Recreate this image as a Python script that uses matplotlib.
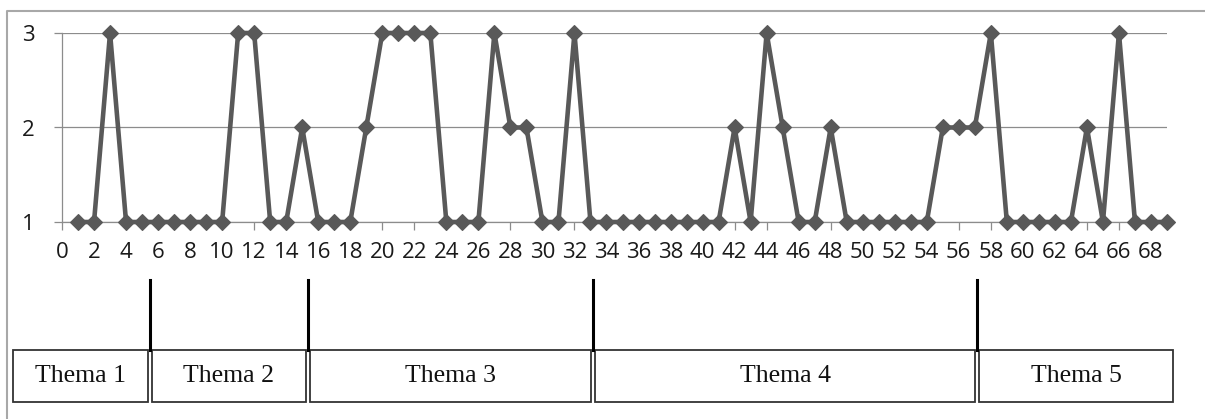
import matplotlib
matplotlib.use("Agg")
import matplotlib.pyplot as plt
from matplotlib.patches import Rectangle
from matplotlib.lines import Line2D
from matplotlib.transforms import blended_transform_factory

# Series: one rating (1-3) per sequence step 1..69
steps = list(range(1, 70))
values = [1, 1, 3, 1, 1, 1, 1, 1, 1, 1,
          3, 3, 1, 1, 2, 1, 1, 1, 2, 3,
          3, 3, 3, 1, 1, 1, 3, 2, 2, 1,
          1, 3, 1, 1, 1, 1, 1, 1, 1, 1,
          1, 2, 1, 3, 2, 1, 1, 2, 1, 1,
          1, 1, 1, 1, 2, 2, 2, 3, 1, 1,
          1, 1, 1, 2, 1, 3, 1, 1, 1]
x_ticks = list(range(0, 69, 2))
y_ticks = [1, 2, 3]

# Topic segments along the step axis
themes = ["Thema 1", "Thema 2", "Thema 3", "Thema 4", "Thema 5"]
theme_edges = [-3.05, 5.5, 15.35, 33.15, 57.15, 69.4]

W, H = 1205, 419
fig = plt.figure(figsize=(W / 100, H / 100), dpi=100)
fig.patch.set_facecolor("white")

ax = fig.add_axes([62 / W, 1 - 222 / H, (1167 - 62) / W, (222 - 33) / H])
ax.set_facecolor("none")

grid_c = "#8c8c8c"
line_c = "#595959"

ax.plot(steps, values, color=line_c, lw=3.3, marker="D", ms=8.6,
        mfc=line_c, mec=line_c, mew=0.8, clip_on=False, zorder=3)

ax.set_xlim(0, 69)
ax.set_ylim(1, 3)
ax.set_xticks(x_ticks)
ax.set_yticks(y_ticks)
ax.set_xticklabels([str(t) for t in x_ticks])
ax.set_yticklabels([str(t) for t in y_ticks])

for s in ["top", "right"]:
    ax.spines[s].set_visible(False)
for s in ["left", "bottom"]:
    ax.spines[s].set_color(grid_c)
    ax.spines[s].set_linewidth(0.9)

ax.yaxis.grid(True, color=grid_c, lw=0.9)
ax.set_axisbelow(True)
ax.tick_params(axis="both", direction="out", length=5.5, width=0.9,
               color=grid_c, labelcolor="#1a1a1a", labelsize=16)
ax.tick_params(axis="x", pad=9)
ax.tick_params(axis="y", pad=14)
for lbl in ax.get_xticklabels() + ax.get_yticklabels():
    lbl.set_fontfamily("Open Sans")

# Outer chart frame (left and top edges)
frame = fig.add_axes([0, 0, 1, 1], zorder=-1)
frame.set_xlim(0, W)
frame.set_ylim(H, 0)
frame.axis("off")
frame.add_line(Line2D([7, 7, W], [H, 11.5, 11.5], color="#a8a8a8", lw=1.5))

# Theme boxes and separators, positioned along the step axis
tr = blended_transform_factory(ax.transData, fig.transFigure)
box_top = 1 - 350 / H
box_bot = 1 - 402 / H
sep_top = 1 - 280 / H
gap = 0.11
for i, name in enumerate(themes):
    x0 = theme_edges[i] + (gap if i > 0 else 0)
    x1 = theme_edges[i + 1] - (gap if i < len(themes) - 1 else 0)
    rect = Rectangle((x0, box_bot), x1 - x0, box_top - box_bot, transform=tr,
                     fill=False, ec="#333333", lw=1.3, clip_on=False)
    fig.add_artist(rect)
    fig.text((x0 + x1) / 2, (box_top + box_bot) / 2, name, transform=tr,
             ha="center", va="center", fontsize=18.5,
             family="Liberation Serif", color="#111111")
for e in theme_edges[1:-1]:
    fig.add_artist(Line2D([e, e], [box_top, sep_top], transform=tr,
                          color="black", lw=2.2))

fig.savefig("out.png", dpi=100, facecolor="white")
